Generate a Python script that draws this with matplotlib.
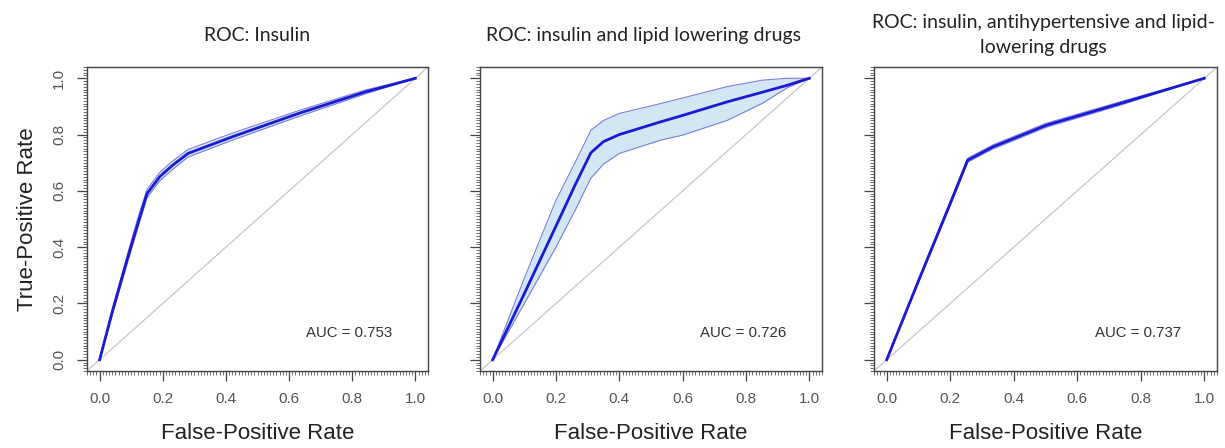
import matplotlib
matplotlib.use("Agg")
import matplotlib.pyplot as plt
from matplotlib.ticker import MultipleLocator

titles = ["ROC: Insulin",
          "ROC: insulin and lipid lowering drugs",
          "ROC: insulin, antihypertensive and lipid-\nlowering drugs"]
auc_labels = ["AUC = 0.753", "AUC = 0.726", "AUC = 0.737"]

fpr1 = [0, 0.04, 0.087, 0.12, 0.15, 0.19, 0.23, 0.28, 0.42, 0.63, 0.84, 1.0]
tpr1 = [0, 0.17, 0.355, 0.48, 0.59, 0.65, 0.69, 0.733, 0.792, 0.875, 0.951, 1.0]
up1 = [0, 0.18, 0.37, 0.50, 0.605, 0.665, 0.705, 0.747, 0.805, 0.885, 0.958, 1.0]
lo1 = [0, 0.16, 0.34, 0.465, 0.575, 0.635, 0.675, 0.72, 0.78, 0.864, 0.944, 1.0]

fpr2 = [0, 0.1, 0.2, 0.26, 0.31, 0.35, 0.4, 0.53, 0.6, 0.74, 0.85, 0.93, 1.0]
tpr2 = [0, 0.235, 0.475, 0.62, 0.735, 0.775, 0.80, 0.845, 0.868, 0.916, 0.95, 0.975, 1.0]
up2 = [0, 0.29, 0.567, 0.70, 0.815, 0.85, 0.875, 0.91, 0.93, 0.97, 0.993, 1.0, 1.0]
lo2 = [0, 0.20, 0.40, 0.53, 0.645, 0.695, 0.733, 0.78, 0.798, 0.85, 0.91, 0.966, 1.0]

fpr3 = [0, 0.1, 0.2, 0.255, 0.334, 0.502, 0.734, 1.0]
tpr3 = [0, 0.28, 0.555, 0.709, 0.756, 0.833, 0.910, 1.0]
up3 = [0, 0.285, 0.562, 0.716, 0.763, 0.840, 0.916, 1.0]
lo3 = [0, 0.275, 0.548, 0.702, 0.749, 0.826, 0.904, 1.0]

panels = [(fpr1, tpr1, up1, lo1), (fpr2, tpr2, up2, lo2), (fpr3, tpr3, up3, lo3)]
ticks = [0.0, 0.2, 0.4, 0.6, 0.8, 1.0]
tick_labels = ["0.0", "0.2", "0.4", "0.6", "0.8", "1.0"]

fig = plt.figure(figsize=(12.25, 4.48), dpi=100)
lefts = [87, 480, 874]
widths = [341, 342, 343]
title_x = [0.5, 0.477, 0.493]
W, H = 1225, 448
for i, (x, y, up, lo) in enumerate(panels):
    ax = fig.add_axes([lefts[i] / W, 77 / H, widths[i] / W, 304 / H])
    ax.set_xlim(-0.04, 1.04)
    ax.set_ylim(-0.04, 1.04)
    ax.plot([-0.04, 1.04], [-0.04, 1.04], color="#c8c8c8", lw=0.9, zorder=1)
    ax.fill_between(x, lo, up, color="#d2e7f3", lw=0, zorder=2)
    ax.plot(x, up, color="#7d7dde", lw=0.8, zorder=3)
    ax.plot(x, lo, color="#7d7dde", lw=0.8, zorder=3)
    ax.plot(x, y, color="#1a1ad2", lw=2.0, zorder=4)
    ax.text(0.79, 0.094, auc_labels[i], ha="center", va="center",
            fontsize=10.8, color="#333333", family="Liberation Sans")
    ax.set_xticks(ticks)
    ax.set_yticks(ticks)
    ax.xaxis.set_minor_locator(MultipleLocator(0.01))
    ax.yaxis.set_minor_locator(MultipleLocator(0.01))
    ax.tick_params(which="major", direction="out", length=7, width=0.9,
                   color="#444444", labelcolor="#555555", labelsize=11, pad=8)
    ax.tick_params(which="minor", direction="out", length=3, width=0.6,
                   color="#555555")
    ax.set_xticklabels(tick_labels, family="Liberation Sans")
    if i == 0:
        ax.set_yticklabels(tick_labels, family="Liberation Sans", rotation=90,
                           va="center")
        ax.set_ylabel("True-Positive Rate", fontsize=16, family="Liberation Sans",
                      color="#222222", labelpad=10)
    else:
        ax.set_yticklabels([])
    ax.set_xlabel("False-Positive Rate", fontsize=16, family="Liberation Sans",
                  color="#222222", labelpad=12)
    for s in ax.spines.values():
        s.set_color("#444444")
        s.set_linewidth(1.0)
    ax.set_title(titles[i], fontsize=14, family="Lato", color="#222222",
                 pad=19 if i < 2 else 10, linespacing=1.6, x=title_x[i])

fig.savefig("out.png", dpi=100)
